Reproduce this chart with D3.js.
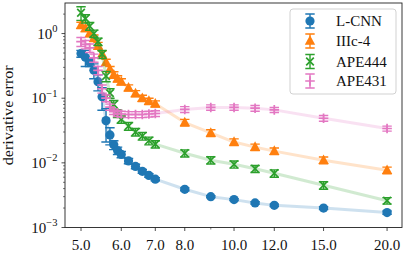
<!DOCTYPE html>
<html lang="en">
<head>
  <meta charset="UTF-8" />
  <title>derivative error</title>
  <style>
    html, body { margin: 0; padding: 0; background: #fff; }
    svg { display: block; font-family: "Liberation Serif", serif; }
  </style>
</head>
<body>
  <svg width="407" height="253"></svg>
  <script src="https://d3js.org/d3.v7.min.js"></script>
  <script>
    // sample positions (shared by all series)
    const xVals = [5.0, 5.1, 5.2, 5.3, 5.4, 5.5, 5.6, 5.7, 5.8, 5.9, 6.0, 6.2, 6.4, 6.6, 6.8, 7.0, 8, 9, 10, 11, 12, 15, 20];

    const lcnn    = [0.49, 0.43, 0.36, 0.27, 0.18, 0.105, 0.045, 0.027, 0.019, 0.0155, 0.0135, 0.0107, 0.0088, 0.0074, 0.0064, 0.0056, 0.0039, 0.0030, 0.0027, 0.0024, 0.0022, 0.0020, 0.0017];
    const lcnnErr = [0.06, 0.12, 0.05, 0.07, 0.05, 0.04, 0.024, 0.008, 0.003, 0.002, 0.0015, 0.001, 0.0007, 0.0005, 0.0004, 0.0003, 0.0002, 0.0001, 0.0001, 0.0001, 0.0001, 0.0001, 0.0001];

    const iiic4    = [1.35, 1.2, 1.0, 0.85, 0.65, 0.48, 0.36, 0.28, 0.23, 0.2, 0.18, 0.145, 0.118, 0.1, 0.09, 0.082, 0.042, 0.029, 0.021, 0.0175, 0.0152, 0.011, 0.0077];
    const iiic4Err = [0.15, 0.13, 0.11, 0.1, 0.08, 0.06, 0.04, 0.03, 0.026, 0.022, 0.02, 0.016, 0.013, 0.011, 0.01, 0.009, 0.005, 0.0035, 0.0025, 0.002, 0.0018, 0.0013, 0.0009];

    const ape444    = [2.1, 1.7, 1.3, 1.0, 0.75, 0.48, 0.22, 0.12, 0.08, 0.058, 0.047, 0.037, 0.030, 0.026, 0.022, 0.0195, 0.0141, 0.011, 0.0095, 0.0081, 0.0069, 0.0045, 0.0026];
    const ape444Err = [0.5, 0.25, 0.18, 0.13, 0.1, 0.07, 0.04, 0.02, 0.012, 0.008, 0.006, 0.005, 0.004, 0.0035, 0.003, 0.0025, 0.0018, 0.0014, 0.0012, 0.001, 0.0009, 0.0006, 0.0003];

    const ape431    = [0.75, 0.68, 0.6, 0.42, 0.27, 0.14, 0.1, 0.073, 0.062, 0.058, 0.057, 0.056, 0.056, 0.056, 0.057, 0.058, 0.067, 0.072, 0.072, 0.070, 0.066, 0.049, 0.034];
    const ape431Err = [0.12, 0.1, 0.09, 0.06, 0.04, 0.02, 0.012, 0.008, 0.006, 0.006, 0.006, 0.006, 0.006, 0.006, 0.006, 0.006, 0.007, 0.007, 0.007, 0.007, 0.006, 0.005, 0.003];

    const seriesNames = ["L-CNN", "IIIc-4", "APE444", "APE431"];
    const xTicks = [5, 6, 7, 8, 10, 12, 15, 20];
    const xMinorTicks = [9];
    const yTicks = [1e-3, 1e-2, 1e-1, 1];

    const series = [
      { name: seriesNames[0], vals: lcnn,   err: lcnnErr,   color: "#1f77b4", marker: "circle" },
      { name: seriesNames[1], vals: iiic4,  err: iiic4Err,  color: "#ff7f0e", marker: "triangle" },
      { name: seriesNames[2], vals: ape444, err: ape444Err, color: "#2ca02c", marker: "x" },
      { name: seriesNames[3], vals: ape431, err: ape431Err, color: "#e377c2", marker: "plus" }
    ];

    const svg = d3.select("svg");
    const plotL = 65, plotR = 402, plotT = 3, plotB = 227.5;

    const x = d3.scaleLog().domain([4.65, 21.4]).range([plotL, plotR]);
    const y = d3.scaleLog().domain([1e-3, 2.97]).range([plotB, plotT]);

    const capW = 4.7;

    function drawMarker(g, type, color) {
      if (type === "circle") {
        g.append("circle").attr("r", 4.6).attr("fill", color);
      } else if (type === "triangle") {
        g.append("path").attr("d", "M0,-5.8L5.2,3.8L-5.2,3.8Z").attr("fill", color);
      } else if (type === "x") {
        g.append("path").attr("d", "M-3.8,-3.8L3.8,3.8M-3.8,3.8L3.8,-3.8")
          .attr("stroke", color).attr("stroke-width", 1.7).attr("fill", "none");
      } else {
        g.append("path").attr("d", "M-4.8,0H4.8M0,-4.8V4.8")
          .attr("stroke", color).attr("stroke-width", 1.7).attr("fill", "none");
      }
    }

    const plot = svg.append("g");

    series.forEach(s => {
      const pts = xVals.map((xv, i) => ({ x: xv, v: s.vals[i], e: s.err[i] }));
      const g = plot.append("g");

      // faint connecting line
      g.append("path")
        .datum(pts)
        .attr("fill", "none")
        .attr("stroke", s.color)
        .attr("stroke-opacity", 0.22)
        .attr("stroke-width", 3)
        .attr("stroke-linejoin", "round")
        .attr("d", d3.line().x(d => x(d.x)).y(d => y(d.v)));

      // error bars
      const eb = g.append("g").attr("stroke", s.color).attr("stroke-width", 1.4).attr("fill", "none");
      pts.forEach(d => {
        const px = x(d.x);
        const lo = y(Math.max(d.v - d.e, 1e-4));
        const hi = y(d.v + d.e);
        eb.append("path").attr("d", `M${px},${lo}V${hi}M${px - capW},${lo}H${px + capW}M${px - capW},${hi}H${px + capW}`);
      });

      // markers
      pts.forEach(d => {
        const mg = g.append("g").attr("transform", `translate(${x(d.x)},${y(d.v)})`);
        drawMarker(mg, s.marker, s.color);
      });
    });

    // axes frame
    svg.append("rect")
      .attr("x", plotL).attr("y", plotT)
      .attr("width", plotR - plotL).attr("height", plotB - plotT)
      .attr("fill", "none").attr("stroke", "#222").attr("stroke-width", 0.9);

    // x ticks
    const xAxis = svg.append("g").attr("stroke", "#222");
    xTicks.forEach(t => {
      xAxis.append("line").attr("x1", x(t)).attr("x2", x(t)).attr("y1", plotB).attr("y2", plotB + 3.5).attr("stroke-width", 0.8);
      svg.append("text").attr("x", x(t)).attr("y", 249.5).attr("text-anchor", "middle")
        .attr("font-size", 15).attr("fill", "#111").text(t.toFixed(1));
    });
    xMinorTicks.forEach(t => {
      xAxis.append("line").attr("x1", x(t)).attr("x2", x(t)).attr("y1", plotB).attr("y2", plotB + 2).attr("stroke-width", 0.6);
    });

    // y ticks
    const yAxis = svg.append("g").attr("stroke", "#222");
    yTicks.forEach(t => {
      yAxis.append("line").attr("x1", plotL).attr("x2", plotL - 3.5).attr("y1", y(t)).attr("y2", y(t)).attr("stroke-width", 0.8);
      const exp = Math.round(Math.log10(t));
      const lab = svg.append("text").attr("x", 57.5).attr("y", y(t) + 5).attr("text-anchor", "end")
        .attr("font-size", 15).attr("fill", "#111");
      lab.append("tspan").text("10");
      lab.append("tspan").attr("font-size", 10.5).attr("dy", -6.5).text(exp < 0 ? "\u2212" + (-exp) : String(exp));
    });
    for (let d = -3; d <= 0; d++) {
      for (let k = 2; k <= 9; k++) {
        const v = k * Math.pow(10, d);
        if (v > 2.97) continue;
        yAxis.append("line").attr("x1", plotL).attr("x2", plotL - 2).attr("y1", y(v)).attr("y2", y(v)).attr("stroke-width", 0.6);
      }
    }

    // y label
    svg.append("text")
      .attr("transform", `translate(13,${(plotT + plotB) / 2}) rotate(-90)`)
      .attr("text-anchor", "middle")
      .attr("font-size", 14.5)
      .attr("fill", "#111")
      .attr("textLength", 100)
      .attr("lengthAdjust", "spacingAndGlyphs")
      .text("derivative error");

    // legend
    const leg = svg.append("g");
    leg.append("rect")
      .attr("x", 290).attr("y", 9).attr("width", 106).attr("height", 85).attr("rx", 3)
      .attr("fill", "#fff").attr("fill-opacity", 0.8)
      .attr("stroke", "#ccc").attr("stroke-width", 0.9);
    const rowY = [21, 41, 61.5, 81];
    series.forEach((s, i) => {
      const hx = 310, hy = rowY[i];
      leg.append("path")
        .attr("d", `M${hx},${hy - 7}V${hy + 7}M${hx - capW},${hy - 7}H${hx + capW}M${hx - capW},${hy + 7}H${hx + capW}`)
        .attr("stroke", s.color).attr("stroke-width", 1.4).attr("fill", "none");
      const mg = leg.append("g").attr("transform", `translate(${hx},${hy})`);
      drawMarker(mg, s.marker, s.color);
      leg.append("text").attr("x", 336).attr("y", hy + 5)
        .attr("font-size", 15).attr("fill", "#111").text(s.name);
    });
  </script>
</body>
</html>
